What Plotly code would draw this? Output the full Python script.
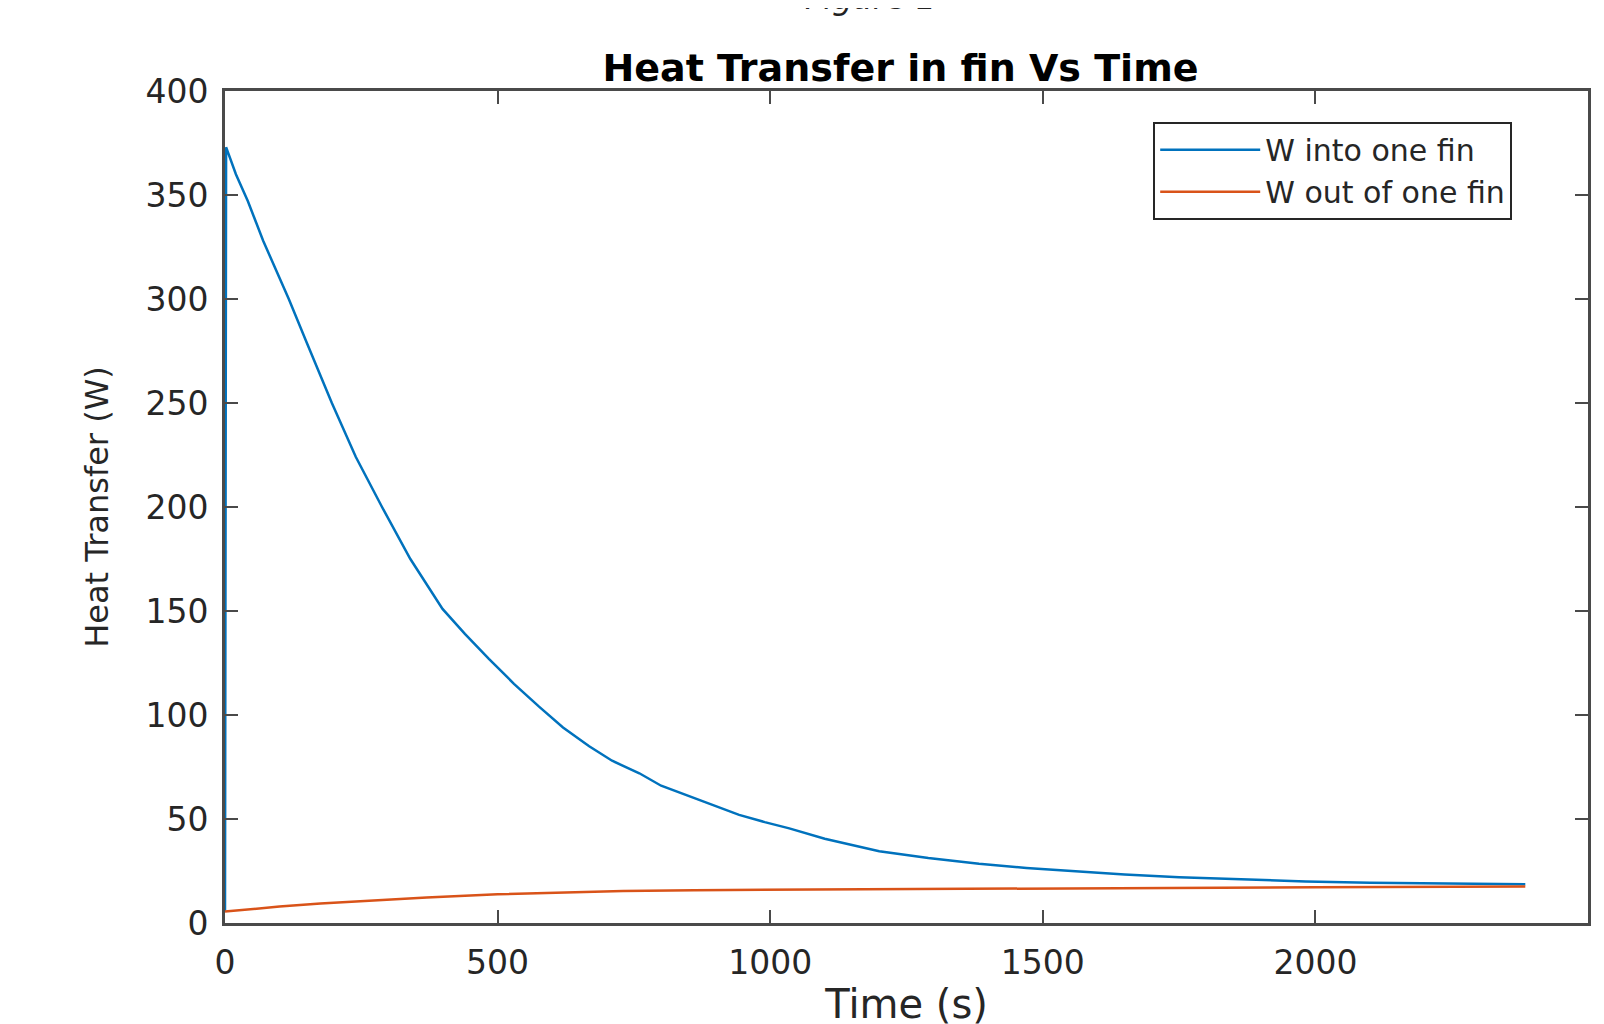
import plotly.graph_objects as go

# Data
t_in = [0, 2, 20, 42, 70, 100, 117, 150, 196, 240, 288, 340, 399, 440, 484, 530,
        576, 620, 668, 710, 760, 800, 851, 900, 943, 990, 1035, 1100, 1200, 1290,
        1383, 1470, 1567, 1650, 1750, 1860, 1982, 2100, 2250, 2385]
w_in = [5.5, 373, 360, 347, 328, 310, 300, 279, 250, 224, 200, 175, 151, 139, 127, 115,
        104, 94, 85, 78, 72, 66, 61, 56, 52, 48.5, 45.5, 40.5, 34.5, 31.2,
        28.5, 26.5, 24.7, 23.3, 22.0, 21.0, 20.0, 19.4, 19.0, 18.6]

t_out = [0, 50, 100, 175, 250, 370, 500, 620, 730, 860, 1000, 1200, 1500, 1750, 2000, 2385]
w_out = [5.5, 6.8, 7.9, 9.4, 10.6, 12.3, 13.8, 14.7, 15.4, 15.8, 16.0, 16.4, 16.8, 17.0,
         17.2, 17.5]

x_ticks = [0, 500, 1000, 1500, 2000, 2500]
y_ticks = [0, 50, 100, 150, 200, 250, 300, 350, 400]

TXT = "#262626"
AX = "#4a4a4a"
FONT = "DejaVu Sans"

fig = go.Figure()
fig.add_trace(go.Scatter(x=t_in, y=w_in, mode="lines", name="W into one fin",
                         line=dict(color="#0072BD", width=2.5)))
fig.add_trace(go.Scatter(x=t_out, y=w_out, mode="lines", name="W out of one fin",
                         line=dict(color="#D95319", width=2.5)))

axis_common = dict(showgrid=False, zeroline=False, showline=True, linecolor=AX,
                   linewidth=3, mirror="allticks", ticks="inside", ticklen=13,
                   tickwidth=2, tickcolor=AX, automargin=False,
                   tickfont=dict(family=FONT, size=33, color=TXT))

fig.update_xaxes(range=[0, 2500], tickvals=x_ticks, ticktext=[str(v) for v in x_ticks],
                 title=dict(text="Time (s)", font=dict(family=FONT, size=40, color=TXT),
                            standoff=10),
                 ticklabelstandoff=8, **axis_common)
fig.update_yaxes(range=[0, 400], tickvals=y_ticks, ticktext=[str(v) for v in y_ticks],
                 title=dict(text="Heat Transfer (W)", font=dict(family=FONT, size=32, color=TXT),
                            standoff=28),
                 ticklabelstandoff=7, **axis_common)

fig.update_layout(
    width=1604, height=1024,
    margin=dict(l=217, r=24, t=83, b=109, autoexpand=False),
    paper_bgcolor="white", plot_bgcolor="white",
    title=dict(text="<b>Heat Transfer in fin Vs Time</b>",
               font=dict(family=FONT, size=38, color="#000000"),
               x=0.5 - 6 / 1363, xref="paper", xanchor="center",
               y=1 - 60 / 1024, yref="container", yanchor="middle"),
    legend=dict(x=0.681, y=0.963, xanchor="left", yanchor="top",
                bgcolor="white", bordercolor=TXT, borderwidth=2,
                font=dict(family=FONT, size=30, color=TXT),
                itemwidth=100, tracegroupgap=0),
    showlegend=True,
    annotations=[dict(text="<i>Figure 1</i>", xref="paper", yref="paper",
                      x=(870 - 225) / 1363, y=1.086,
                      xanchor="center", yanchor="bottom", showarrow=False,
                      font=dict(family=FONT, size=32, color="#222222"))],
)

fig.write_html("out.html")
